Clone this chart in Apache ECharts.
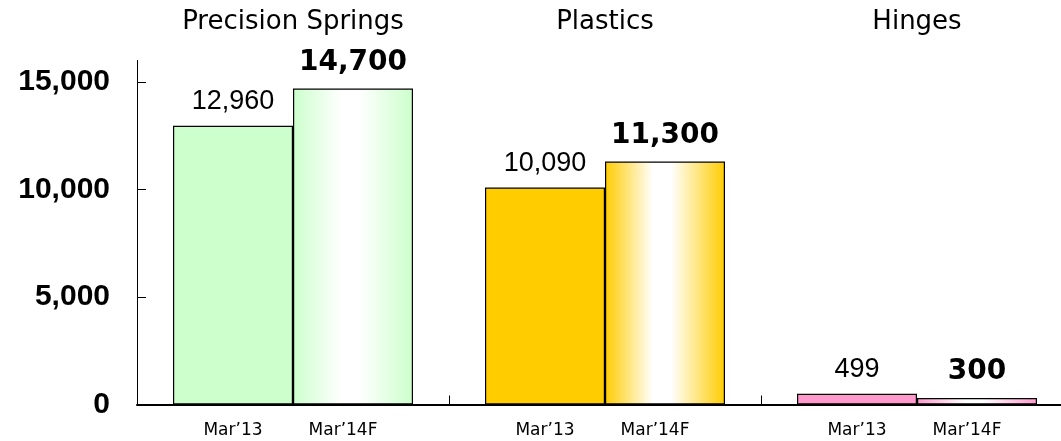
<!DOCTYPE html>
<html>
<head>
<meta charset="utf-8">
<script src="https://cdn.jsdelivr.net/npm/echarts@6/dist/echarts.min.js"></script>
<style>
  html, body { margin: 0; padding: 0; background: #fff; overflow: hidden; }
  /* the plot runs slightly past the right edge of the window */
  #chart { width: 1073px; height: 441px; }
</style>
</head>
<body>
<div id="chart"></div>
<script>
// Net sales by business segment (million yen)
const categories = ['Precision Springs', 'Plastics', 'Hinges'];
const periods = ['Mar’13', 'Mar’14F'];
const mar13 = [12960, 10090, 499];
const mar14F = [14700, 11300, 300];
const yTicks = [0, 5000, 10000, 15000];

// segment colours
const segmentColors = ['#CCFFCC', '#FFCC00', '#FF99CC'];

const fmt = v => v.toLocaleString('en-US');

// forecast bars use a colour-white-colour horizontal gradient
function shade(c) {
  return new echarts.graphic.LinearGradient(0, 0, 1, 0, [
    { offset: 0, color: c },
    { offset: 0.4, color: '#FFFFFF' },
    { offset: 0.55, color: '#FFFFFF' },
    { offset: 1, color: c }
  ]);
}

const border = { borderColor: '#000', borderWidth: 1.2 };

const chart = echarts.init(document.getElementById('chart'));

chart.setOption({
  animation: false,
  grid: { left: 137, top: 60.5, width: 936, height: 344 },
  xAxis: [
    {
      type: 'category',
      data: categories,
      position: 'bottom',
      axisLine: { show: true, lineStyle: { color: '#000', width: 2 } },
      axisTick: { show: true, inside: true, length: 9, lineStyle: { color: '#000', width: 1 } },
      axisLabel: { show: false }
    },
    {
      type: 'category',
      data: categories,
      position: 'top',
      axisLine: { show: false },
      axisTick: { show: false },
      axisLabel: {
        show: true, margin: 25,
        fontFamily: 'DejaVu Sans', fontSize: 26, color: '#000'
      }
    }
  ],
  yAxis: {
    type: 'value',
    min: 0,
    max: 16000,
    interval: 5000,
    splitLine: { show: false },
    axisLine: { show: true, lineStyle: { color: '#000', width: 1 } },
    axisTick: { show: true, inside: true, length: 9, customValues: yTicks, lineStyle: { color: '#000' } },
    axisLabel: {
      customValues: yTicks,
      margin: 27,
      padding: [8, 0, 0, 0],
      fontFamily: 'Liberation Sans', fontWeight: 'bold', fontSize: 30, color: '#000',
      formatter: v => fmt(v)
    }
  },
  series: [
    {
      name: periods[0],
      type: 'bar',
      xAxisIndex: 0,
      barWidth: 120,
      barGap: '0%',
      data: mar13.map((v, i) => ({
        value: v,
        itemStyle: Object.assign({ color: segmentColors[i] }, border)
      })),
      label: {
        show: true, position: 'top', distance: 11,
        fontFamily: 'Liberation Sans', fontSize: 27, color: '#000',
        formatter: p => fmt(p.value)
      }
    },
    {
      name: periods[1],
      type: 'bar',
      xAxisIndex: 0,
      barWidth: 120,
      barGap: '0%',
      data: mar14F.map((v, i) => ({
        value: v,
        itemStyle: Object.assign({ color: shade(segmentColors[i]) }, border)
      })),
      label: {
        show: true, position: 'top', distance: 12,
        fontFamily: 'DejaVu Sans', fontWeight: 'bold', fontSize: 28, color: '#000',
        formatter: p => fmt(p.value)
      }
    },
    // period names under each bar, laid out on the same category slots
    ...periods.map((name, k) => ({
      name: name,
      type: 'bar',
      xAxisIndex: 1,
      barWidth: 120,
      barGap: '0%',
      silent: true,
      data: categories.map(() => 0),
      itemStyle: { color: 'transparent' },
      label: {
        show: true, position: 'bottom', distance: 18,
        offset: [k === 0 ? 0 : -10, 0],
        fontFamily: 'DejaVu Sans', fontSize: 17, color: '#000',
        formatter: () => name
      }
    }))
  ]
});
</script>
</body>
</html>
